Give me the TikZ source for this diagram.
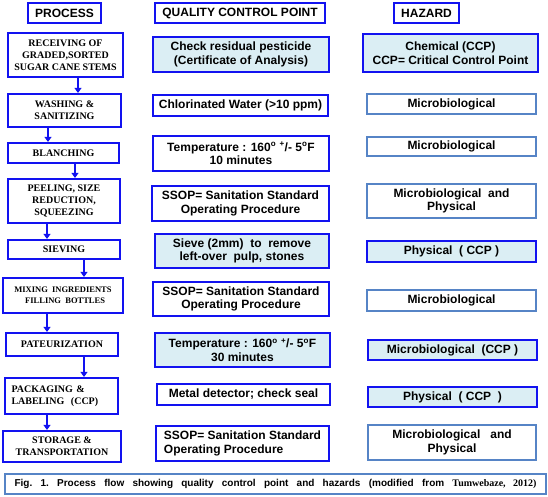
\documentclass[tikz,border=0pt]{standalone}
\usepackage{fontspec}
\setmainfont{Liberation Sans}
\newfontfamily\timesfont{Liberation Serif}
\usepackage{tikz}
\usetikzlibrary{arrows.meta}
\definecolor{boxblue}{RGB}{18,18,240}
\definecolor{steelblue}{RGB}{86,132,198}
\definecolor{palecyan}{RGB}{219,238,244}
\tikzset{
  headbox/.style={ draw=boxblue, line width=2.2pt, inner sep=0pt, minimum height=20pt, font=\bfseries\fontsize{12}{13.5}\selectfont }
}
\tikzset{
  procbox/.style={ draw=boxblue, line width=2.2pt, inner sep=0pt, align=center, font=\timesfont\bfseries\fontsize{10}{12}\selectfont }
}
\tikzset{
  qcbox/.style={ draw=boxblue, line width=2.2pt, inner sep=0pt, align=center, font=\bfseries\fontsize{12}{13.5}\selectfont }
}
\tikzset{
  qcfill/.style={ qcbox, fill=palecyan }
}
\tikzset{
  hazbox/.style={ draw=steelblue, line width=1.8pt, inner sep=0pt, align=center, font=\bfseries\fontsize{12}{13.5}\selectfont }
}
\tikzset{
  hazfill/.style={ qcbox, fill=palecyan }
}
\tikzset{
  flow/.style={ draw=boxblue, line width=2pt, -{Triangle[length=5pt,width=7pt]} }
}
\newcommand{\degsign}{\textsuperscript{o}}

\begin{document}
\begin{tikzpicture}[x=1pt, y=-1pt]
      \useasboundingbox (0,0) rectangle (548,496);
      % column headers
      \node[headbox, minimum width=73pt] (hproc) at (64.5,13) {PROCESS};
      \node[headbox, minimum width=170pt] (hqc) at (240,13) {QUALITY CONTROL POINT};
      \node[headbox, minimum width=65pt] (hhaz) at (426.5,13) {HAZARD};
      % process steps
      \node[procbox, minimum width=115pt, minimum height=44pt] (p1) at (65.5,55) {RECEIVING OF\\GRADED,SORTED\\SUGAR CANE STEMS};
      \node[procbox, minimum width=113pt, minimum height=33pt] (p2) at (64.5,110.5) {WASHING \&\\SANITIZING};
      \node[procbox, minimum width=111pt, minimum height=20pt] (p3) at (63.5,153) {BLANCHING};
      \node[procbox, minimum width=112pt, minimum height=44pt] (p4) at (64,201) {PEELING, SIZE\\REDUCTION,\\SQUEEZING};
      \node[procbox, minimum width=112pt, minimum height=19pt] (p5) at (64,249.5) {SIEVING};
      \node[procbox, minimum width=120pt, minimum height=35pt, font=\timesfont\bfseries\fontsize{8.5}{11}\selectfont] (p6) at (63,295.5) {MIXING\ \ INGREDIENTS\\\ \ FILLING\ \ BOTTLES};
      \node[procbox, minimum width=112pt, minimum height=23pt] (p7) at (62,344.5) {PATEURIZATION};
      \node[procbox, minimum width=113pt, minimum height=36pt, align=left, text width=100pt] (p8) at (61.5,396) {PACKAGING \&\\LABELING\ \ (CCP)};
      \node[procbox, minimum width=118pt, minimum height=31pt] (p9) at (62,446.5) {STORAGE \&\\TRANSPORTATION};
      % quality control points
      \node[qcfill, minimum width=176pt, minimum height=35pt] (q1) at (241,54.5) {Check residual pesticide\\(Certificate of Analysis)};
      \node[qcbox, minimum width=175pt, minimum height=21pt] (q2) at (240.5,105.5) {Chlorinated Water (>10 ppm)};
      \node[qcbox, minimum width=176pt, minimum height=35pt] (q3) at (241,153.5) {Temperature : 160\degsign\ \textsuperscript{+}/- 5\degsign F\\10 minutes};
      \node[qcbox, minimum width=177pt, minimum height=35pt] (q4) at (240.5,203.5) {SSOP= Sanitation Standard\\Operating Procedure};
      \node[qcfill, minimum width=174pt, minimum height=34pt] (q5) at (242,251) {Sieve (2mm)\ \ to\ \ remove\\left-over\ \ pulp, stones};
      \node[qcbox, minimum width=176pt, minimum height=34pt] (q6) at (241,299) {SSOP= Sanitation Standard\\Operating Procedure};
      \node[qcfill, minimum width=175pt, minimum height=34pt] (q7) at (242.5,350) {Temperature : 160\degsign\ \textsuperscript{+}/- 5\degsign F\\30 minutes};
      \node[qcbox, minimum width=173pt, minimum height=21pt] (q8) at (243.5,394.5) {Metal detector; check seal};
      \node[qcbox, minimum width=173pt, minimum height=35pt, align=left] (q9) at (242.5,443.5) {SSOP= Sanitation Standard\\Operating Procedure};
      % hazards
      \node[hazfill, minimum width=175pt, minimum height=38pt] (h1) at (450.5,53) {Chemical (CCP)\\CCP= Critical Control Point};
      \node[hazbox, minimum width=169pt, minimum height=20pt] (h2) at (451.5,104) {Microbiological};
      \node[hazbox, minimum width=169pt, minimum height=19pt] (h3) at (451.5,146.5) {Microbiological};
      \node[hazbox, minimum width=169pt, minimum height=34pt] (h4) at (451.5,201) {Microbiological\ \ and\\Physical};
      \node[hazfill, minimum width=169pt, minimum height=21pt] (h5) at (451.5,251.5) {Physical\ \ ( CCP )};
      \node[hazbox, minimum width=169pt, minimum height=21pt] (h6) at (451.5,300.5) {Microbiological};
      \node[hazfill, minimum width=169pt, minimum height=20pt] (h7) at (452.5,350) {Microbiological\ \ (CCP )};
      \node[hazfill, minimum width=169pt, minimum height=20pt] (h8) at (452.5,397) {Physical\ \ ( CCP\ \ )};
      \node[hazbox, minimum width=168pt, minimum height=35pt] (h9) at (452,442.5) {Microbiological\ \ \ and\\Physical};
      % caption
      \node[hazbox, minimum width=541pt, minimum height=20pt, font=\bfseries\fontsize{10}{12}\selectfont\frenchspacing] (cap) at (275.5,484) {\makebox[522pt][s]{Fig. 1. Process flow showing quality control point and hazards (modified from {\timesfont Tumwebaze, 2012)}}};
      % process flow
      \foreach \a/\b/\x in {p1/p2/78, p2/p3/48, p3/p4/75, p4/p5/47, p5/p6/84, p6/p7/47, p7/p8/84, p8/p9/47}
        \draw[flow] (\a.south -| \x,0) -- (\b.north -| \x,0);
    \end{tikzpicture}
\end{document}
